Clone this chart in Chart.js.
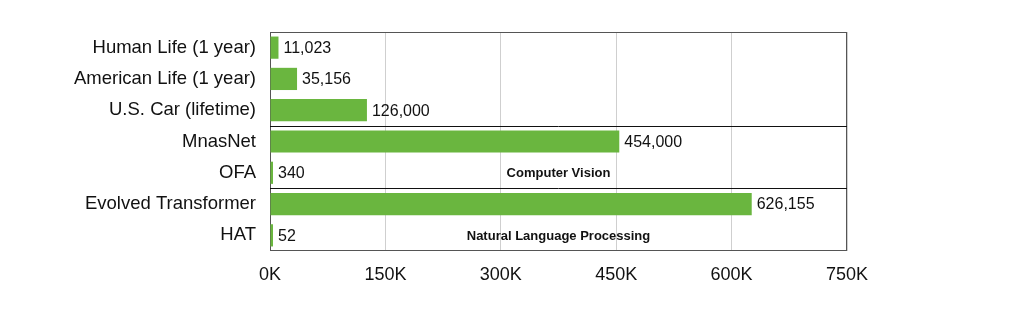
<!DOCTYPE html>
<html>
<head>
<meta charset="utf-8">
<script src="https://cdn.jsdelivr.net/npm/chart.js@4"></script>
<style>
  html, body { margin: 0; padding: 0; background: #fff; }
  #wrap { width: 1020px; height: 311px; }
</style>
</head>
<body>
<div id="wrap"><canvas id="co2Chart" width="1020" height="311"></canvas></div>
<script>
// CO2 emissions (lbs) - categories and values
const categories = [
    'Human Life (1 year)', 'American Life (1 year)', 'U.S. Car (lifetime)',
    'MnasNet', 'OFA', 'Evolved Transformer', 'HAT'
];
const emissions = [11023, 35156, 126000, 454000, 340, 626155, 52];
const xTicks = [0, 150000, 300000, 450000, 600000, 750000];

// group separators sit above these category indices
const groupStarts = [3, 5];
const groupLabels = [
    { text: 'Computer Vision', row: 4 },
    { text: 'Natural Language Processing', row: 6 }
];

const FONT = "'Liberation Sans', Arial, Helvetica, sans-serif";

// frame and separators go under the bars, text on top
const annotatePlugin = {
    id: 'annotate',
    beforeDatasetsDraw(chart) {
        const ctx = chart.ctx;
        const area = chart.chartArea;
        const y = chart.scales.y;

        ctx.save();
        ctx.lineWidth = 1;
        ctx.strokeStyle = '#555';
        ctx.strokeRect(area.left + 0.5, area.top + 0.5, area.right - area.left - 1, area.bottom - area.top - 1);

        ctx.strokeStyle = '#111';
        groupStarts.forEach(function (idx) {
            const yy = Math.round((y.getPixelForValue(idx - 1) + y.getPixelForValue(idx)) / 2) + 0.5;
            ctx.beginPath();
            ctx.moveTo(area.left, yy);
            ctx.lineTo(area.right, yy);
            ctx.stroke();
        });
        ctx.restore();
    },
    afterDatasetsDraw(chart) {
        const ctx = chart.ctx;
        const area = chart.chartArea;
        const y = chart.scales.y;
        const meta = chart.getDatasetMeta(0);

        ctx.save();
        ctx.fillStyle = '#111';
        ctx.font = '16px ' + FONT;
        ctx.textAlign = 'left';
        ctx.textBaseline = 'middle';
        meta.data.forEach(function (bar, i) {
            ctx.fillText(emissions[i].toLocaleString('en-US'), bar.x + 5, bar.y + 1);
        });

        ctx.font = 'bold 13px ' + FONT;
        ctx.textAlign = 'center';
        groupLabels.forEach(function (g) {
            ctx.fillText(g.text, (area.left + area.right) / 2, y.getPixelForValue(g.row) + 1);
        });
        ctx.restore();
    }
};

const ctx = document.getElementById('co2Chart').getContext('2d');
new Chart(ctx, {
    type: 'bar',
    data: {
        labels: categories,
        datasets: [{
            data: emissions,
            backgroundColor: '#6ab63f',
            borderWidth: 0,
            minBarLength: 3,
            categoryPercentage: 1,
            barPercentage: 0.71
        }]
    },
    options: {
        indexAxis: 'y',
        responsive: false,
        animation: false,
        layout: { padding: { left: 0, right: 173, top: 32, bottom: 0 } },
        plugins: {
            legend: { display: false },
            tooltip: { enabled: false }
        },
        scales: {
            x: {
                min: 0,
                max: 750000,
                afterBuildTicks: function (scale) {
                    scale.ticks = xTicks.map(function (v) { return { value: v }; });
                },
                afterFit: function (scale) { scale.height = 60; },
                grid: { color: '#cfcfcf', drawTicks: false },
                border: { display: false },
                ticks: {
                    padding: 13,
                    color: '#111',
                    font: { size: 18, family: FONT },
                    callback: function (v) { return (v / 1000) + 'K'; }
                }
            },
            y: {
                afterFit: function (scale) { scale.width = 270; },
                grid: { display: false, drawTicks: false },
                border: { display: false },
                ticks: {
                    padding: 14,
                    color: '#111',
                    font: { size: 18.5, family: FONT }
                }
            }
        }
    },
    plugins: [annotatePlugin]
});
</script>
</body>
</html>
